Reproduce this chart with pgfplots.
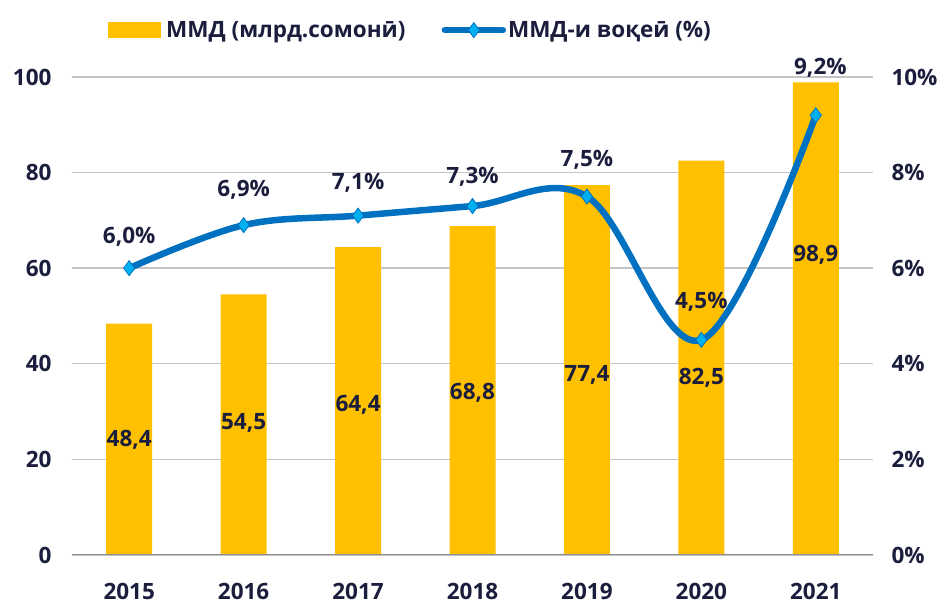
\documentclass[border=0pt]{standalone}
\usepackage{fontspec}
\setmainfont{Open Sans}
\usepackage{pgfplots}
\pgfplotsset{compat=1.18}
\definecolor{bargold}{HTML}{FFC000}
\definecolor{lineblue}{HTML}{0070C0}
\definecolor{mkblue}{HTML}{00B0F0}
\definecolor{txt}{HTML}{1B1D3D}
\definecolor{gridgray}{HTML}{C4C4C4}
\definecolor{axgray}{HTML}{8C8C8C}
\pgfplotsset{
  lineleg/.style={legend image code/.code={\draw[mark repeat=2, mark phase=2, ##1] plot coordinates {(0bp,0bp) (29bp,0bp) (58bp,0bp)};}},
  barleg/.style={legend image code/.code={\fill[bargold] (0bp,-7.5bp) rectangle (52bp,7.5bp); \path[draw=none, fill=none] (52bp,0bp) rectangle (56bp,0.1bp);}},
  base/.style={scale only axis, width=801bp, height=478bp,
    xmin=-0.5, xmax=6.5, at={(0,0)}, anchor=south west,
    /pgf/number format/assume math mode=true,
    axis line style={draw=none}, tick style={draw=none},
    tick label style={text=txt}},
}
\begin{document}
\begin{tikzpicture}[font=\fontsize{22.5bp}{26bp}\selectfont\bfseries, text=txt]
\useasboundingbox (-72bp,-53bp) rectangle (871bp,555bp);
\begin{axis}[base, ymin=0, ymax=100, ytick={0,20,...,100},
  ymajorgrids, grid style={gridgray, line width=1.4bp},
  xtick={0,...,6}, xticklabels={2015,2016,2017,2018,2019,2020,2021},
  xticklabel style={yshift=-20bp},
  yticklabel style={xshift=-17bp},
  ybar, bar width=46bp]
\addplot[fill=bargold, draw=none] coordinates {(0,48.4) (1,54.5) (2,64.4) (3,68.8) (4,77.4) (5,82.5) (6,98.9)};
\draw[axgray, line width=1.6bp] (axis cs:-0.5,0) -- (axis cs:6.5,0);
\pgfplotsinvokeforeach{-0.5,0.5,1.5,2.5,3.5,4.5,5.5,6.5}{
  \draw[axgray, line width=1.6bp] (axis cs:#1,0) -- ++(0,-6bp);
}
\node at (axis cs:0,24.1) {48,4};
\node at (axis cs:1,27.6) {54,5};
\node at (axis cs:2,31.4) {64,4};
\node at (axis cs:3,33.9) {68,8};
\node at (axis cs:4,37.7) {77,4};
\node at (axis cs:5,37.0) {82,5};
\node at (axis cs:6,62.8) {98,9};
\end{axis}
\begin{axis}[base, ymin=0, ymax=10, ytick={0,2,...,10}, xtick=\empty,
  clip=false,
  yticklabel pos=right, yticklabel={\pgfmathprintnumber{\tick}\%},
  yticklabel style={xshift=15bp},
  legend style={at={(0.041,1.098)}, anchor=west, draw=none, fill=none,
    legend columns=2, text=txt,
    /tikz/every even column/.append style={column sep=34bp}},
  legend cell align=left]
\addlegendimage{barleg}
\addlegendentry{ММД (млрд.сомонӣ)}
\addplot[lineblue, line width=6.5bp, smooth, tension=0.6, line cap=round,
  mark=diamond*, mark size=7.5bp,
  mark options={fill=mkblue, draw=lineblue, line width=0.8bp}, lineleg]
  coordinates {(0,6.0) (1,6.9) (2,7.1) (3,7.3) (4,7.5) (5,4.5) (6,9.2)};
\addlegendentry{ММД-и воқеӣ (\%)}
\node at (axis cs:0,6.65) {6,0\%};
\node at (axis cs:1,7.64) {6,9\%};
\node at (axis cs:2,7.78) {7,1\%};
\node at (axis cs:3,7.91) {7,3\%};
\node at (axis cs:4,8.26) {7,5\%};
\node at (axis cs:5,5.29) {4,5\%};
\node at (axis cs:6.04,10.19) {9,2\%};
\end{axis}
\end{tikzpicture}
\end{document}
